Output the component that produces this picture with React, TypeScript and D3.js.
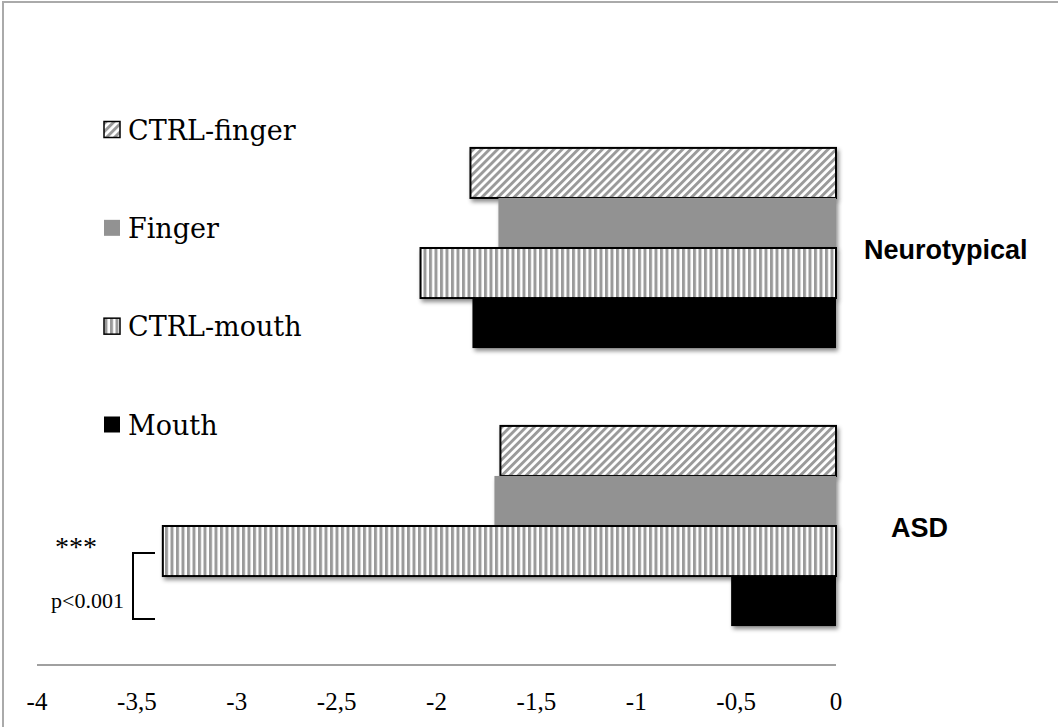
import React from "react";
import * as d3 from "d3";

const groups = ["Neurotypical", "ASD"];
const conditions = ["CTRL-finger", "Finger", "CTRL-mouth", "Mouth"];
const neurotypicalValues = [-1.83, -1.69, -2.08, -1.82];
const asdValues = [-1.68, -1.71, -3.37, -0.525];
const xTicks = [-4, -3.5, -3, -2.5, -2, -1.5, -1, -0.5, 0];

const W = 1058;
const H = 727;

const fills: Record<string, string> = {
  "CTRL-finger": "url(#diag)",
  Finger: "#929292",
  "CTRL-mouth": "url(#vert)",
  Mouth: "#000000",
};
const outlined: Record<string, boolean> = {
  "CTRL-finger": true,
  Finger: false,
  "CTRL-mouth": true,
  Mouth: false,
};

export default function App() {
  const values: Record<string, number[]> = {
    Neurotypical: neurotypicalValues,
    ASD: asdValues,
  };

  const x = d3.scaleLinear().domain([-4, 0]).range([37, 836]);
  const y = d3.scaleBand().domain(groups).range([109, 665]).paddingInner(0.28).paddingOuter(0.14);
  const yInner = d3.scaleBand().domain(conditions).range([0, y.bandwidth()]);
  const fmt = (v: number) => String(v).replace(".", ",");

  const legendY = d3.scalePoint().domain(conditions).range([130, 425]);

  return (
    <svg
      width={W}
      height={H}
      style={{ position: "absolute", left: 0, top: 0, background: "#fff" }}
    >
      <defs>
        <pattern id="diag" patternUnits="userSpaceOnUse" width={5.7} height={5.7} patternTransform="rotate(45)">
          <rect width={5.7} height={5.7} fill="#fff" />
          <rect width={2.9} height={5.7} fill="#9a9a9a" />
        </pattern>
        <pattern id="vert" patternUnits="userSpaceOnUse" width={5.5} height={10}>
          <rect width={5.5} height={10} fill="#fff" />
          <rect width={3} height={10} fill="#9a9a9a" />
        </pattern>
        <filter id="shadow" x="-10%" y="-20%" width="130%" height="160%">
          <feDropShadow dx={2} dy={3} stdDeviation={2} floodColor="#000" floodOpacity={0.45} />
        </filter>
      </defs>

      {/* frame */}
      <rect x={3} y={2} width={W + 20} height={H + 20} fill="none" stroke="#aaa" strokeWidth={2} />

      {/* bars */}
      {groups.map((g) =>
        conditions.map((c, i) => {
          const v = values[g][i];
          const y0 = (y(g) as number) + (yInner(c) as number);
          return (
            <rect
              key={g + c}
              x={x(v)}
              y={y0}
              width={x(0) - x(v)}
              height={yInner.bandwidth()}
              fill={fills[c]}
              stroke={outlined[c] ? "#000" : "none"}
              strokeWidth={outlined[c] ? 2 : 0}
              filter="url(#shadow)"
            />
          );
        })
      )}

      {/* x axis */}
      <line x1={x(-4)} x2={x(0)} y1={665} y2={665} stroke="#a0a0a0" strokeWidth={2} />
      {xTicks.map((t) => (
        <text
          key={t}
          x={x(t)}
          y={710}
          textAnchor="middle"
          fontFamily="Liberation Serif"
          fontSize={25}
          fill="#000"
        >
          {fmt(t)}
        </text>
      ))}

      {/* group labels */}
      <text x={864} y={259} fontFamily="Liberation Sans" fontWeight="bold" fontSize={27} fill="#000">
        Neurotypical
      </text>
      <text x={891} y={537} fontFamily="Liberation Sans" fontWeight="bold" fontSize={27} fill="#000">
        ASD
      </text>

      {/* legend */}
      {conditions.map((c) => {
        const cy = legendY(c) as number;
        return (
          <g key={c}>
            <rect
              x={104}
              y={cy - 8.5}
              width={16}
              height={16}
              fill={fills[c]}
              stroke={outlined[c] ? "#000" : "none"}
              strokeWidth={outlined[c] ? 1.5 : 0}
            />
            <text x={128} y={cy + 9.5} fontFamily="DejaVu Serif" fontSize={27} fill="#000">
              {c}
            </text>
          </g>
        );
      })}

      {/* significance bracket */}
      <path d="M155,553 H133 V619 H155" fill="none" stroke="#000" strokeWidth={2} />
      <text x={76} y={556} textAnchor="middle" fontFamily="Liberation Serif" fontSize={28} fill="#000">
        ***
      </text>
      <text x={124} y={608} textAnchor="end" fontFamily="Liberation Serif" fontSize={22} fill="#000">
        p&lt;0.001
      </text>
    </svg>
  );
}
